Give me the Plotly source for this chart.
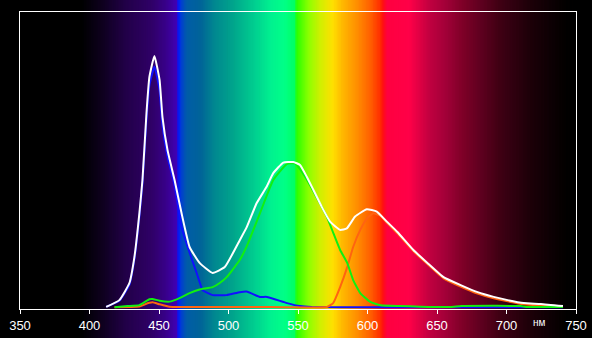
import plotly.graph_objects as go

# ---- data (wavelength nm, relative intensity) ----
white_nm = [412, 421.5, 428.7, 432.3, 435.9, 438.1, 441.0, 443.1, 446.7, 450.4, 452.5, 456.1,
            461.2, 466.2, 472.0, 479.2, 488.6, 497.3, 508.2, 513.2, 520.2, 527.4, 532.2, 539.4,
            546.6, 551.5, 556.3, 561.1, 567.1, 573.1, 580.3, 585.1, 591.1, 599.5, 606.7, 613.9,
            621.5, 633.0, 643.1, 654.7, 667.0, 679.2, 690.8, 700.9, 712.4, 724.7, 740.6]
white_val = [0.1, 2.4, 8.2, 17.0, 31.9, 43.1, 65.8, 78.0, 85.1, 77.0, 64.4, 53.3,
             43.1, 31.9, 20.4, 15.0, 11.6, 13.6, 22.8, 27.2, 35.2, 40.8, 45.4, 49.0,
             49.2, 48.2, 44.2, 39.7, 34.0, 29.0, 26.2, 26.7, 30.7, 33.2, 32.4, 29.0,
             25.5, 19.4, 15.0, 10.2, 7.5, 5.1, 3.5, 2.4, 1.4, 1.1, 0.4]

blue_nm = [412, 421.5, 428.7, 432.3, 435.9, 438.1, 441.0, 443.1, 446.7, 450.4, 452.5, 456.1,
           461.2, 466.2, 470.6, 477.1, 481.4, 488.6, 498.7, 508.1, 513.0, 522.6, 527.6, 542.1,
           551.4, 560.0, 600.0, 650.0, 700.0, 740.6]
blue_val = [0.1, 2.2, 7.6, 16.2, 30.8, 41.8, 63.5, 75.2, 81.5, 73.5, 61.5, 51.0,
            41.3, 27.3, 20.4, 11.6, 5.8, 4.1, 4.1, 5.1, 5.3, 3.5, 3.5, 1.4,
            0.4, 0.1, 0.0, 0.0, 0.0, 0.0]

green_nm = [418, 427.3, 435.9, 443.1, 445.3, 450.4, 457.6, 464.8, 472.0, 479.2, 488.6, 493.7,
            498.7, 508.1, 513.0, 522.6, 532.2, 541.9, 547.8, 556.3, 570.7, 575.5, 580.3, 585.4,
            589.7, 594.8, 602.0, 609.2, 623.6, 638.1, 659.7, 667.7, 710.3, 714.0, 740.6]
green_val = [0.0, 0.4, 0.7, 2.7, 2.8, 2.2, 1.9, 3.1, 4.8, 6.0, 6.8, 8.2,
             10.2, 16.0, 20.5, 31.8, 43.1, 48.5, 48.7, 43.3, 30.7, 25.0, 19.4, 15.0,
             9.2, 4.8, 1.8, 0.7, 0.4, 0.2, 0.1, 0.4, 0.4, 0.1, 0.1]

red_nm = [418, 428.7, 435.9, 439.5, 443.1, 445.3, 450.4, 454.0, 457.6, 464.8, 520.0, 570.9,
          575.3, 580.3, 585.4, 589.7, 594.8, 599.8, 604.1, 609.2, 614.3, 621.5, 633.0, 643.1,
          654.7, 667.0, 679.2, 690.8, 700.9, 712.4, 724.7, 740.6]
red_val = [0.0, 0.1, 0.2, 0.9, 1.5, 1.7, 1.0, 0.6, 0.2, 0.1, 0.1, 0.1,
           1.4, 6.8, 13.6, 20.4, 26.2, 30.2, 31.8, 31.0, 28.4, 25.0, 19.0, 14.6,
           9.8, 7.0, 4.6, 3.0, 2.0, 1.0, 0.6, 0.1]

x_ticks = [350, 400, 450, 500, 550, 600, 650, 700, 750]

# ---- background spectrum colour stops (styling) ----
spec_stops = [
    (350, (0, 0, 0)), (394, (0, 0, 0)), (409, (14, 0, 30)), (426, (34, 0, 72)),
    (445, (48, 0, 104)), (455, (56, 0, 138)), (462.5, (64, 0, 180)), (464, (0, 24, 255)),
    (466, (0, 64, 208)), (470, (0, 92, 168)), (480, (0, 100, 152)), (490, (0, 136, 144)),
    (503, (0, 164, 140)), (520, (0, 210, 144)), (530, (0, 240, 144)), (540, (0, 255, 136)),
    (547.5, (0, 255, 100)), (549, (40, 255, 0)), (558, (144, 255, 0)), (566, (208, 240, 0)),
    (575, (255, 224, 0)), (582, (255, 184, 0)), (592, (255, 144, 0)), (602, (255, 96, 0)),
    (609, (255, 48, 0)), (611, (255, 16, 16)), (614, (255, 0, 64)), (630, (255, 0, 72)),
    (645, (192, 0, 64)), (657, (160, 0, 56)), (668, (128, 0, 40)), (681, (96, 0, 32)),
    (695, (64, 0, 20)), (705, (48, 0, 16)), (718, (28, 0, 8)), (730, (16, 0, 5)),
    (742, (3, 0, 0)), (750, (0, 0, 0)),
]


def spec_color(nm):
    for (a, ca), (b, cb) in zip(spec_stops[:-1], spec_stops[1:]):
        if a <= nm <= b:
            t = (nm - a) / (b - a) if b > a else 0
            c = [round(ca[i] + (cb[i] - ca[i]) * t) for i in range(3)]
            return "rgb(%d,%d,%d)" % tuple(c)
    return "rgb(0,0,0)"


XMIN, XMAX = 350, 750
shapes = []
step = 1.0
nm = XMIN
while nm < XMAX:
    mid = nm + step / 2
    shapes.append(dict(type="rect", xref="paper", yref="paper",
                       x0=(nm - XMIN) / (XMAX - XMIN), x1=(nm + step - XMIN) / (XMAX - XMIN) + 0.0015,
                       y0=-0.2, y1=1.1, line=dict(width=0), fillcolor=spec_color(mid),
                       layer="below"))
    nm += step

line_kw = dict(width=2, shape="spline", smoothing=0.4)
fig = go.Figure()
fig.add_trace(go.Scatter(x=blue_nm, y=blue_val, mode="lines", line=dict(color="#1010ff", **line_kw)))
fig.add_trace(go.Scatter(x=red_nm, y=red_val, mode="lines", line=dict(color="#ff6410", **line_kw)))
fig.add_trace(go.Scatter(x=green_nm, y=green_val, mode="lines", line=dict(color="#10f010", **line_kw)))
fig.add_trace(go.Scatter(x=white_nm, y=white_val, mode="lines", line=dict(color="#ffffff", **line_kw)))

fig.update_layout(
    template="none",
    width=592, height=338,
    margin=dict(l=20, r=16, t=12, b=29, autoexpand=False),
    paper_bgcolor="black", plot_bgcolor="rgba(0,0,0,0)",
    showlegend=False,
    shapes=shapes,
    font=dict(family="Liberation Sans, Arial, sans-serif", color="white", size=13),
    xaxis=dict(range=[XMIN, XMAX], tickvals=x_ticks, ticktext=[str(v) for v in x_ticks],
               automargin=False,
               showgrid=False, zeroline=False, showline=True, linecolor="white", linewidth=1,
               mirror=True, ticks="outside", ticklen=4, tickcolor="white", tickwidth=1,
               tickfont=dict(color="white", size=13)),
    yaxis=dict(range=[-0.6, 100], showgrid=False, zeroline=False, showline=True,
               automargin=False,
               linecolor="white", linewidth=1, mirror=True, ticks="", showticklabels=False),
    annotations=[dict(text="нм", x=724, xref="x", y=-0.045, yref="paper", showarrow=False,
                      font=dict(color="white", size=10), xanchor="center", yanchor="middle")],
)

fig.write_html("out.html")
